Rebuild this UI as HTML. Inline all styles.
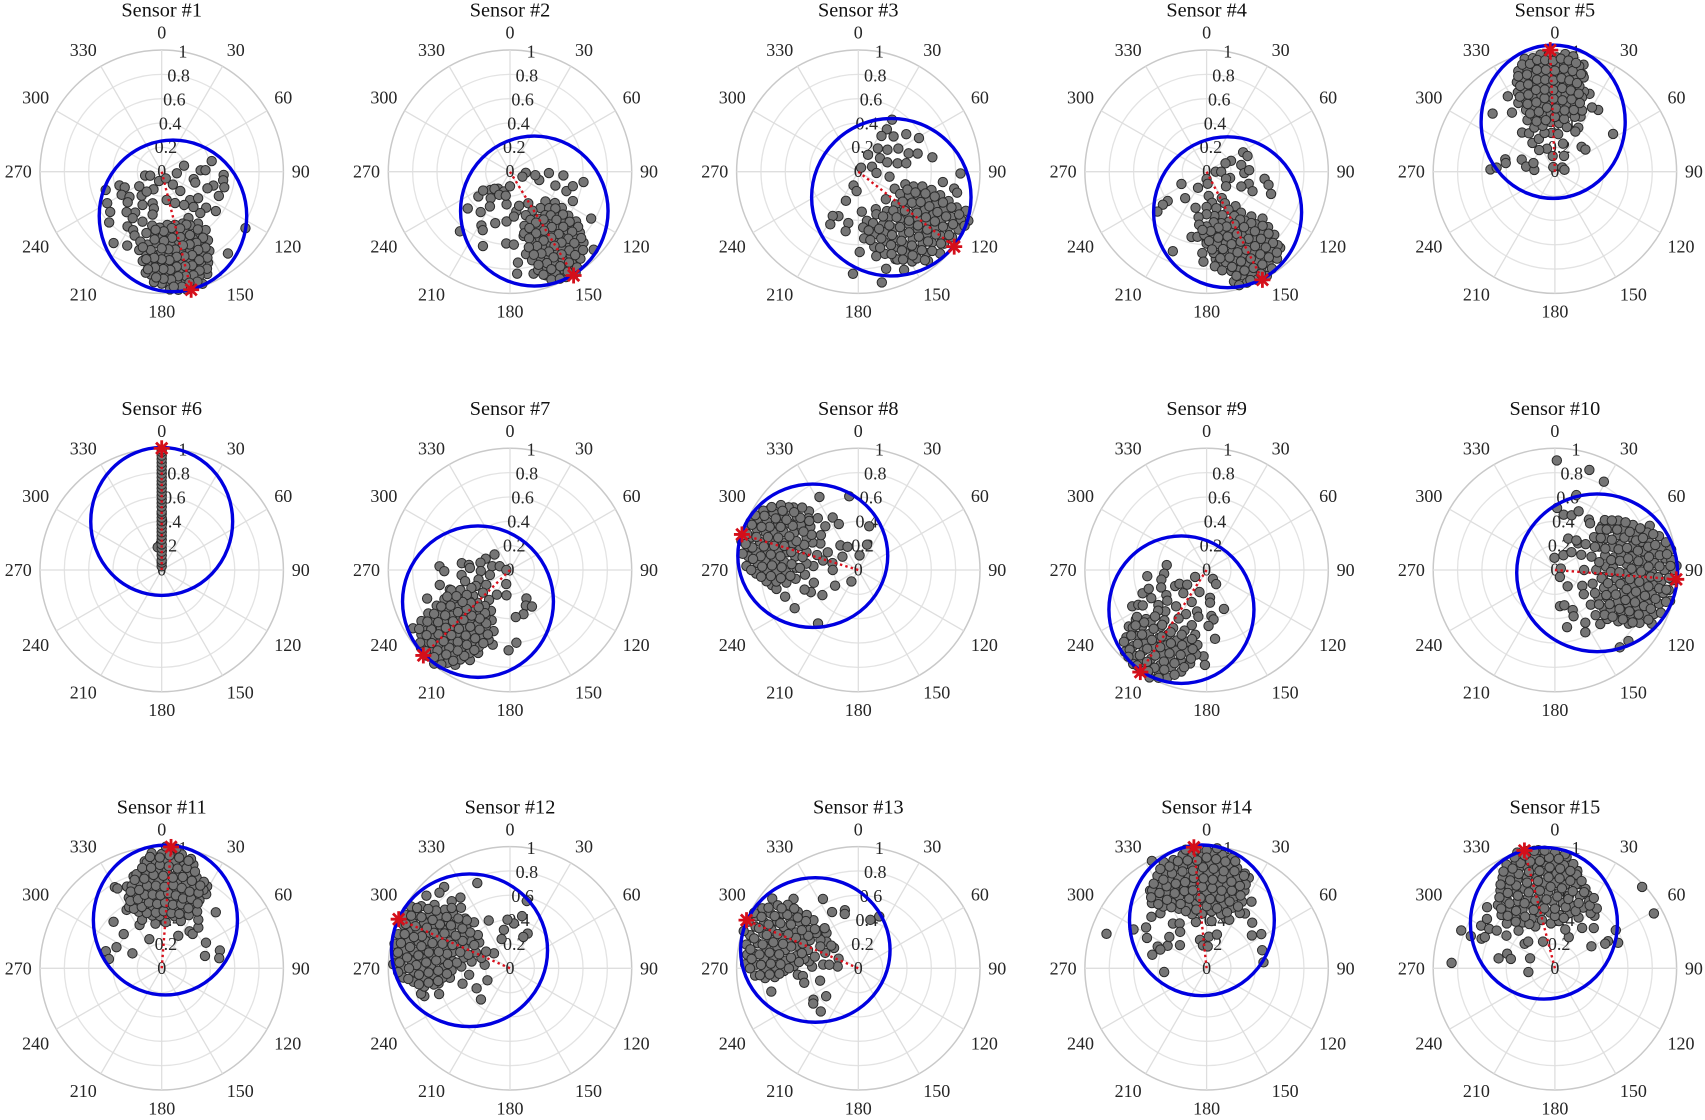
<!DOCTYPE html>
<html lang="en">
<head>
<meta charset="utf-8">
<title>Sensor polar plots</title>
<style>
html,body{margin:0;padding:0;background:#fff;}
#chart{display:block;width:1705px;height:1120px;background:#fff;}
text{font-family:"Liberation Serif",serif;}
</style>
</head>
<body>
<svg id="chart" xmlns="http://www.w3.org/2000/svg" width="1705" height="1120" viewBox="0 0 1705 1120"></svg>
<script>
const thetaTicks = [0,30,60,90,120,150,180,210,240,270,300,330];
const radialTicks = [0,0.2,0.4,0.6,0.8,1];
const sensorNames = ["Sensor #1","Sensor #2","Sensor #3","Sensor #4","Sensor #5","Sensor #6","Sensor #7","Sensor #8","Sensor #9","Sensor #10","Sensor #11","Sensor #12","Sensor #13","Sensor #14","Sensor #15"];
const peakTheta = [166,148.5,128,152.7,357.8,0,225.4,287,213,94.4,4.4,293.8,293.3,354,345.5];
const peakRadius = [1,1,1,1,1,1,1,1,1,1,1,1,1,1,1];
const fitCenterTheta = [165.7,148.3,127.7,152.6,358,0,225.3,287.4,212.4,93.8,4.4,294,293.1,354.4,346.3];
const fitCenterRadius = [.375,.38,.343,.375,.411,.399,.37,.392,.386,.348,.398,.364,.384,.396,.381];
const fitHalfWidth = [.606,.606,.655,.608,.592,.583,.62,.616,.596,.661,.592,.641,.614,.595,.604];
const fitHalfHeight = [.623,.616,.647,.62,.63,.608,.622,.589,.606,.648,.616,.627,.594,.619,.623];

const sensor1Points = [[78,.42],[75,.19],[96,.125],[88,.32],[88,.36],[93,.51],[98,.51],[104,.53],[105,.44],[110,.4],[113,.51],[103,.27],[108,.29],[124,.83],[141,.865],[126,.55],[129,.47],[137,.465],[257,.14],[251,.1],[196,.08],[149,.065],[139,.14],[136,.22],[237,.22],[252,.365],[247,.33],[252,.484],[240,.38],[232,.336],[220,.257],[205,.16],[217,.205],[228,.376],[240,.517],[232,.537],[210,.315],[196,.27],[192,.31],[213,.4],[221,.44],[212,.45],[192,.36],[201,.44],[226,.6],[212,.53],[206,.535],[203,.57],[214,.707],[205,.67],[170,.236],[157,.28],[135,.33],[126,.37],[146,.33],[138,.39],
[150,.44],[158,.46],[166,.45],[174,.44],[182,.46],[190,.45],[145,.52],[152,.5],[159,.53],[166,.52],[173,.51],[180,.53],[187,.51],[194,.52],[143,.6],[150,.59],[155,.61],[161,.6],[167,.58],[173,.61],[179,.6],[185,.59],[191,.61],[197,.6],[146,.68],[151,.67],[156,.69],[161,.68],[166,.66],[171,.69],[176,.68],[181,.67],[186,.69],[191,.68],[196,.67],[149,.76],[154,.75],[159,.77],[163,.76],[168,.74],[172,.77],[176,.76],[181,.75],[185,.77],[189,.76],[192,.75],[153,.84],[157,.83],[161,.85],[165,.84],[169,.82],[173,.85],[177,.84],[181,.83],[186,.85],[189,.84],[156,.92],[160,.91],[164,.93],[168,.92],[172,.9],[176,.93],[180,.92],[184,.91],[160,.98],[164,.97],[168,.99],[172,.98],[176,.97],
[155,.48],[162,.49],[170,.47],[178,.49],[186,.48],[148,.56],[156,.57],[164,.56],[171,.55],[178,.57],[186,.56],[148,.64],[154,.65],[159,.64],[164,.63],[170,.65],[175,.64],[180,.63],[188,.65],[194,.64],[150,.72],[155,.71],[160,.73],[165,.72],[170,.71],[175,.73],[180,.72],[185,.71],[190,.73],[152,.8],[157,.79],[162,.81],[166,.8],[171,.79],[175,.81],[179,.8],[184,.79],[188,.81],[155,.88],[159,.87],[163,.89],[167,.88],[171,.87],[175,.89],[179,.88],[183,.87],[162,.95],[166,.94],[170,.96],[174,.95]];

const sensor2Points = [[106,.25],[107,.39],[109,.49],[98,.61],[94,.13],[92,.32],[94,.44],[103,.53],[115,.57],[120,.77],[133,.94],[232,.33],[229,.46],[216,.41],[220,.64],[200,.65],[183,.59],[177,.6],[175,.75],[176,.84],[167,.86],[208,.5],[196,.44],[205,.53],[184,.41],[171,.33],[227,.22],[215,.17],[197,.17],[180,.12],[216,.27],[186,.27],[175,.37],[168,.54],[112,.11],[98,.21],
[150,.3],[165,.29],[130,.38],[140,.39],[150,.37],[160,.38],[125,.45],[133,.44],[141,.46],[149,.45],[157,.43],[165,.46],[125,.52],[132,.51],[139,.53],[146,.52],[153,.5],[160,.53],[167,.52],[127,.6],[133,.59],[139,.61],[145,.6],[151,.58],[157,.61],[163,.6],[127,.68],[132,.67],[137,.69],[142,.68],[147,.66],[152,.69],[157,.68],[163,.67],[169,.69],[131,.76],[136,.75],[141,.77],[146,.76],[151,.74],[156,.77],[161,.76],[166,.75],[134,.84],[139,.83],[144,.85],[149,.84],[154,.82],[159,.85],[164,.84],[141,.92],[146,.91],[151,.93],[156,.92],[161,.9],[147,.99],[152,.98],[159,.95],
[129,.48],[137,.49],[145,.48],[153,.47],[161,.49],[129,.56],[136,.55],[143,.57],[150,.56],[157,.55],[164,.57],[130,.64],[136,.63],[142,.65],[148,.64],[154,.63],[160,.65],[166,.64],[129,.72],[134,.71],[139,.73],[144,.72],[149,.71],[154,.73],[159,.72],[164,.71],[133,.8],[138,.79],[143,.81],[148,.8],[153,.79],[158,.81],[163,.8],[137,.88],[142,.87],[147,.89],[152,.88],[157,.87],[162,.89],[145,.96],[150,.95],[155,.97],[222,.19],[205,.21],[235,.27],[210,.33],[190,.2]];

const sensor3Points = [[33,.51],[34,.42],[33,.35],[45,.41],[52,.5],[61,.57],[40,.25],[53,.3],[60,.38],[70,.44],[73,.51],[79,.62],[30,.16],[35,.04],[70,.12],[58,.21],[72,.25],[78,.33],[80,.4],[94,.15],[99,.26],[91,.84],[97,.7],[100,.8],[102,.83],[199,.12],[185,.16],[203,.26],[204,.4],[210,.42],[208,.49],[191,.43],[192,.5],[179,.66],[168,.71],[183,.84],[168,.93],[164,.83],[155,.89],[157,.78],[149,.86],[142,.93],[170,.57],[114,.99],
[115,.33],[135,.32],[155,.34],[175,.33],[105,.4],[118,.39],[131,.41],[144,.4],[157,.38],[170,.41],[105,.47],[115,.46],[125,.48],[135,.47],[145,.45],[155,.48],[165,.47],[175,.46],[103,.54],[112,.53],[121,.55],[130,.54],[139,.52],[148,.55],[157,.54],[166,.53],[175,.55],[104,.62],[112,.61],[120,.63],[128,.62],[136,.6],[144,.63],[152,.62],[160,.61],[168,.63],[106,.7],[113,.69],[120,.71],[127,.7],[134,.68],[141,.71],[148,.7],[155,.69],[162,.71],[108,.78],[114,.77],[120,.79],[126,.78],[132,.76],[138,.79],[144,.78],[150,.77],[156,.79],[110,.86],[116,.85],[122,.87],[128,.86],[134,.84],[140,.87],[146,.86],[110,.94],[115,.93],[120,.95],[125,.94],[130,.92],[135,.95],[117,.98],
[110,.43],[124,.44],[138,.43],[151,.42],[164,.44],[110,.5],[120,.51],[130,.5],[140,.49],[150,.51],[160,.5],[170,.49],[108,.58],[116,.57],[125,.59],[134,.58],[143,.57],[152,.59],[161,.58],[170,.57],[108,.66],[116,.65],[124,.67],[132,.66],[140,.65],[148,.67],[156,.66],[164,.65],[110,.74],[117,.73],[123,.75],[130,.74],[137,.73],[144,.75],[151,.74],[158,.73],[111,.82],[117,.81],[123,.83],[129,.82],[135,.81],[141,.83],[147,.82],[153,.81],[113,.9],[119,.89],[125,.91],[131,.9],[137,.89],[143,.91]];

const sensor4Points = [[62,.34],[69,.36],[66,.22],[66,.17],[79,.29],[92,.31],[88,.35],[90,.075],[90,.12],[105,.2],[110,.17],[97,.48],[102,.52],[109,.56],[106,.36],[113,.31],[113,.41],[127,.2],[180,.06],[175,.1],[244,.23],[208,.15],[219,.28],[233,.4],[233,.45],[231,.52],[203,.71],[197,.31],[193,.55],[188,.54],[180,.57],[183,.67],[182,.74],[174,.72],[172,.75],[175,.78],[171,.82],[136,.87],[186,.45],
[175,.2],[150,.25],[170,.26],[150,.3],[165,.31],[180,.29],[140,.37],[150,.36],[160,.38],[170,.37],[180,.35],[190,.38],[140,.44],[148,.43],[156,.45],[164,.44],[172,.42],[180,.45],[188,.44],[135,.52],[142,.51],[150,.53],[158,.52],[166,.5],[174,.53],[182,.52],[130,.6],[137,.59],[144,.61],[151,.6],[158,.58],[165,.61],[172,.6],[180,.59],[132,.68],[138,.67],[144,.69],[150,.68],[156,.66],[162,.69],[168,.68],[175,.67],[133,.76],[138,.75],[144,.77],[150,.76],[156,.74],[162,.77],[168,.76],[136,.84],[141,.83],[146,.85],[151,.84],[156,.82],[161,.85],[166,.84],[141,.92],[146,.91],[151,.93],[156,.92],[161,.9],[166,.93],[150,.99],[155,.98],[160,.97],
[145,.48],[152,.49],[160,.48],[168,.47],[176,.49],[184,.48],[139,.56],[146,.55],[154,.57],[162,.56],[170,.55],[178,.57],[134,.64],[141,.63],[148,.65],[154,.64],[161,.63],[168,.65],[176,.64],[135,.72],[141,.71],[147,.73],[153,.72],[159,.71],[165,.73],[171,.72],[137,.8],[142,.79],[147,.81],[153,.8],[159,.79],[165,.81],[139,.88],[144,.87],[149,.89],[154,.88],[159,.87],[164,.89],[146,.96],[152,.95],[158,.96],[164,.97]];

const sensor5Points = [[313,.7],[328,.73],[324,.6],[337,.73],[57,.57],[35,.62],[30,.61],[24,.7],[20,.7],[15,.91],[16,.83],[47,.3],[54,.31],[272,.53],[274,.48],[284,.42],[280,.41],[290,.29],[280,.24],[275,.17],[292,.19],[340,.04],[60,.07],[79,.08],[352,.13],[30,.15],[341,.2],[324,.22],[322,.3],[334,.3],[320,.42],[326,.38],[16,.24],[25,.5],[28,.41],[27,.37],
[355,.32],[5,.31],[345,.33],[335,.4],[345,.39],[355,.41],[5,.4],[15,.38],[332,.48],[340,.47],[348,.49],[356,.48],[4,.46],[12,.49],[20,.48],[335,.56],[342,.55],[349,.57],[356,.56],[3,.54],[10,.57],[17,.56],[24,.55],[332,.64],[338,.63],[344,.65],[350,.64],[356,.62],[2,.65],[8,.64],[14,.63],[20,.65],[335,.72],[340,.71],[346,.73],[351,.72],[356,.7],[1,.73],[6,.72],[11,.71],[16,.73],[337,.8],[342,.79],[347,.81],[352,.8],[357,.78],[2,.81],[7,.8],[12,.79],[17,.81],[340,.88],[345,.87],[349,.89],[353,.88],[357,.86],[1,.89],[5,.88],[9,.87],[13,.89],[345,.96],[349,.95],[353,.97],[357,.96],[1,.94],[5,.97],[9,.96],
[340,.44],[350,.43],[0,.45],[10,.44],[337,.52],[345,.51],[353,.53],[1,.52],[9,.51],[17,.53],[338,.6],[345,.59],[352,.61],[359,.6],[6,.59],[13,.61],[20,.6],[335,.68],[341,.67],[347,.69],[353,.68],[359,.67],[5,.69],[11,.68],[17,.67],[338,.76],[343,.75],[349,.77],[354,.76],[359,.75],[4,.77],[9,.76],[14,.75],[339,.84],[344,.83],[350,.85],[355,.84],[0,.83],[5,.85],[10,.84],[15,.83],[343,.92],[347,.91],[351,.93],[355,.92],[359,.91],[3,.93],[7,.92],[11,.91]];

const sensor6Points = [[0,.03],[0,.06],[0,.08],[0,.12],[0,.15],[350,.19],[0,.18],[0,.21],[0,.25],[0,.28],[0,.31],[0,.34],[0,.37],[0,.4],[0,.43],[0,.46],[0,.48],[0,.52],[0,.55],[0,.58],[0,.61],[0,.64],[0,.67],[0,.7],[0,.73],[0,.76],[0,.79],[0,.82],[0,.85],[0,.88],[0,.91],[0,.94],[0,.97],[0,.99]];

const sensor7Points = [[315,.18],[295,.22],[284,.25],[278,.4],[277,.34],[273,.33],[273,.58],[269,.54],[258,.59],[251,.72],[252,.52],[282,.15],[290,.09],[270,.03],[268,.24],[256,.17],[264,.4],[256,.38],[253,.27],[238,.23],[195,.12],[188,.21],[208,.23],[150,.27],[156,.32],[149,.35],[163,.38],[173,.39],[175,.6],[181,.66],[193,.63],[201,.73],[204,.81],[210,.9],
[215,.3],[230,.29],[245,.31],[205,.37],[215,.36],[225,.38],[235,.37],[245,.35],[200,.44],[208,.43],[216,.45],[224,.44],[232,.42],[240,.45],[248,.44],[195,.52],[203,.51],[211,.53],[219,.52],[227,.5],[235,.53],[243,.52],[251,.51],[197,.6],[204,.59],[211,.61],[218,.6],[225,.58],[232,.61],[239,.6],[246,.59],[202,.68],[208,.67],[214,.69],[220,.68],[226,.66],[232,.69],[238,.68],[244,.67],[206,.76],[212,.75],[218,.77],[224,.76],[230,.74],[236,.77],[242,.76],[209,.84],[214,.83],[219,.85],[224,.84],[229,.82],[234,.85],[240,.84],[214,.92],[219,.91],[224,.93],[229,.92],[234,.9],[239,.93],[219,.99],[224,.98],[229,.97],
[210,.41],[220,.4],[230,.42],[240,.41],[204,.48],[212,.47],[220,.49],[228,.48],[236,.47],[244,.49],[199,.56],[207,.55],[215,.57],[223,.56],[231,.55],[239,.57],[247,.56],[200,.64],[207,.63],[214,.65],[221,.64],[228,.63],[235,.65],[242,.64],[204,.72],[210,.71],[216,.73],[222,.72],[228,.71],[234,.73],[240,.72],[208,.8],[213,.79],[218,.81],[223,.8],[228,.79],[233,.81],[238,.8],[212,.88],[217,.87],[222,.89],[227,.88],[232,.87],[237,.89],[216,.96],[221,.95],[226,.96],[231,.95]];

const sensor8Points = [[332,.68],[353,.61],[314,.74],[305,.88],[320,.63],[334,.48],[322,.54],[337,.41],[323,.45],[14,.37],[19,.22],[5,.12],[324,.25],[335,.21],[310,.17],[285,.22],[270,.21],[211,.11],[236,.23],[235,.36],[254,.38],[239,.61],[250,.64],[217,.55],[260,.72],[257,.69],[245,.43],[250,.47],
[285,.3],[300,.29],[275,.37],[290,.36],[305,.38],[265,.44],[277,.43],[289,.45],[301,.44],[313,.42],[262,.52],[272,.51],[282,.53],[292,.52],[302,.5],[312,.53],[260,.6],[268,.59],[276,.61],[284,.6],[292,.58],[300,.61],[308,.6],[316,.59],[262,.68],[269,.67],[276,.69],[283,.68],[290,.66],[297,.69],[304,.68],[311,.67],[318,.69],[263,.76],[270,.75],[276,.77],[282,.76],[288,.74],[294,.77],[300,.76],[306,.75],[312,.77],[268,.84],[274,.83],[280,.85],[286,.84],[292,.82],[298,.85],[304,.84],[310,.83],[272,.92],[277,.91],[282,.93],[287,.92],[292,.9],[297,.93],[302,.92],[284,.99],[289,.98],[294,.97],
[272,.48],[283,.47],[295,.49],[307,.48],[265,.56],[275,.55],[285,.57],[295,.56],[305,.55],[315,.57],[264,.64],[272,.63],[280,.65],[288,.64],[296,.63],[304,.65],[312,.64],[266,.72],[273,.71],[280,.73],[286,.72],[292,.71],[299,.73],[305,.72],[312,.71],[266,.8],[272,.79],[278,.81],[284,.8],[290,.79],[296,.81],[302,.8],[308,.79],[270,.88],[276,.87],[282,.89],[288,.88],[294,.87],[300,.89],[306,.88],[278,.96],[283,.95],[288,.96],[293,.95],[298,.96]];

const sensor9Points = [[277,.33],[265,.35],[258,.38],[249,.4],[264,.49],[239,.11],[145,.09],[146,.14],[243,.29],[243,.25],[233,.2],[225,.27],[198,.19],[250,.56],[252,.5],[243,.51],[244,.68],[243,.63],[241,.6],[234,.49],[238,.39],[232,.41],[173,.23],[174,.27],[156,.35],[174,.38],[172,.41],[178,.46],[173,.57],[182,.71],[181,.78],[235,.71],[231,.64],[234,.79],[205,.29],[193,.35],[190,.39],
[205,.4],[220,.39],[195,.47],[210,.46],[225,.48],[190,.54],[200,.53],[210,.55],[220,.54],[230,.52],[187,.62],[195,.61],[203,.63],[211,.62],[219,.6],[227,.63],[187,.7],[194,.69],[201,.71],[208,.7],[215,.68],[222,.71],[229,.7],[236,.69],[190,.78],[196,.77],[202,.79],[208,.78],[214,.76],[220,.79],[226,.78],[232,.77],[194,.86],[200,.85],[206,.87],[212,.86],[218,.84],[224,.87],[230,.86],[200,.94],[205,.93],[210,.95],[215,.94],[220,.92],[225,.95],[208,1],[213,.99],[218,.98],
[192,.58],[201,.57],[210,.59],[219,.58],[228,.57],[190,.66],[198,.65],[206,.67],[214,.66],[222,.65],[230,.67],[190,.74],[197,.73],[204,.75],[211,.74],[218,.73],[225,.75],[232,.74],[193,.82],[199,.81],[205,.83],[211,.82],[217,.81],[223,.83],[229,.82],[197,.9],[203,.89],[208,.91],[213,.9],[218,.89],[224,.91],[229,.9],[204,.97],[210,.96],[216,.97],[222,.96]];

const sensor10Points = [[1,.9],[19,.87],[29,.83],[16,.64],[2,.51],[9,.46],[17,.47],[22,.52],[34,.5],[37,.48],[47,.53],[53,.64],[59,.69],[65,.86],[66,.76],[23,.28],[41,.29],[36,.3],[30,.14],[43,.2],[358,.1],[76,.05],[144,.07],[142,.17],[172,.3],[165,.3],[168,.48],[156,.36],[158,.41],[150,.5],[154,.57],[140,.58],[128,.67],[140,.83],[134,.84],[119,.91],[88,1],
[60,.25],[90,.24],[120,.26],[50,.33],[70,.32],[90,.34],[110,.33],[130,.31],[50,.42],[62,.41],[74,.43],[86,.42],[98,.4],[110,.43],[122,.42],[134,.41],[48,.5],[58,.49],[68,.51],[78,.5],[88,.48],[98,.51],[108,.5],[118,.49],[128,.51],[138,.5],[45,.58],[53,.57],[61,.59],[69,.58],[77,.56],[85,.59],[93,.58],[101,.57],[109,.59],[117,.58],[125,.56],[133,.59],[52,.66],[59,.65],[66,.67],[73,.66],[80,.64],[87,.67],[94,.66],[101,.65],[108,.67],[115,.66],[122,.64],[129,.67],[60,.74],[66,.73],[72,.75],[78,.74],[84,.72],[90,.75],[96,.74],[102,.73],[108,.75],[114,.74],[120,.72],[126,.75],[68,.82],[74,.81],[80,.83],[86,.82],[92,.8],[98,.83],[104,.82],[110,.81],[116,.83],[122,.82],[72,.9],[78,.89],[84,.91],[90,.9],[96,.88],[102,.91],[108,.9],[114,.89],[80,.97],[85,.96],[90,.98],[95,.97],[100,.95],[105,.98],
[60,.38],[80,.37],[100,.39],[120,.38],[55,.46],[67,.45],[80,.47],[92,.46],[104,.45],[116,.47],[128,.46],[52,.54],[62,.53],[72,.55],[82,.54],[92,.53],[102,.55],[112,.54],[122,.53],[132,.55],[49,.62],[57,.61],[65,.63],[73,.62],[81,.61],[89,.63],[97,.62],[105,.61],[113,.63],[121,.62],[129,.61],[56,.7],[63,.69],[70,.71],[77,.7],[84,.69],[91,.71],[98,.7],[105,.69],[112,.71],[119,.7],[126,.69],[64,.78],[70,.77],[76,.79],[82,.78],[88,.77],[94,.79],[100,.78],[106,.77],[112,.79],[118,.78],[124,.77],[70,.86],[76,.85],[82,.87],[88,.86],[94,.85],[100,.87],[106,.86],[112,.85],[118,.87],[76,.94],[82,.93],[88,.95],[94,.94],[100,.93],[106,.95],[112,.94]];

const sensor11Points = [[287,.48],[280,.44],[295,.41],[297,.27],[314,.55],[312,.42],[337,.26],[330,.77],[331,.75],[337,.73],[343,.79],[351,.89],[44,.64],[27,.3],[37,.38],[42,.38],[42,.45],[60,.42],[74,.37],[73,.5],[80,.48],[37,.5],[29,.77],[31,.71],[329,.56],[333,.4],[338,.43],
[5,.38],[352,.37],[350,.44],[358,.43],[6,.45],[14,.44],[22,.42],[338,.5],[345,.49],[352,.51],[359,.5],[6,.48],[13,.51],[20,.5],[27,.49],[332,.57],[338,.56],[344,.58],[350,.57],[356,.55],[2,.58],[8,.57],[14,.56],[20,.58],[26,.57],[32,.55],[335,.64],[341,.63],[347,.65],[353,.64],[359,.62],[5,.65],[11,.64],[17,.63],[23,.65],[29,.64],[340,.72],[346,.71],[352,.73],[358,.72],[4,.7],[10,.73],[16,.72],[22,.71],[28,.73],[345,.8],[351,.79],[357,.81],[3,.8],[9,.78],[15,.81],[21,.8],[26,.79],[352,.88],[357,.87],[2,.89],[7,.88],[12,.86],[17,.89],[355,.95],[0,.94],[5,.96],[10,.95],[15,.93],[2,1],[7,.99],
[345,.47],[354,.46],[2,.47],[10,.46],[18,.47],[335,.54],[342,.53],[349,.55],[356,.53],[3,.54],[10,.53],[17,.55],[24,.54],[335,.61],[341,.6],[347,.62],[353,.61],[359,.6],[5,.62],[11,.61],[17,.6],[23,.62],[29,.61],[338,.68],[344,.67],[350,.69],[356,.68],[2,.67],[8,.69],[14,.68],[20,.67],[26,.69],[343,.76],[349,.75],[355,.77],[1,.76],[7,.75],[13,.77],[19,.76],[25,.75],[349,.84],[354,.83],[359,.85],[4,.84],[9,.83],[14,.85],[19,.84],[354,.92],[359,.91],[4,.93],[9,.92],[14,.91]];

const sensor12Points = [[339,.75],[321,.86],[317,.85],[311,.91],[325,.71],[319,.73],[14,.57],[13,.44],[5,.37],[357,.4],[351,.32],[27,.32],[23,.28],[344,.25],[336,.43],[313,.18],[278,.21],[242,.21],[261,.34],[252,.41],[239,.32],[223,.35],[250,.62],[252,.74],[254,.76],[258,.6],[261,.5],
[290,.25],[305,.24],[280,.32],[295,.31],[310,.33],[272,.4],[283,.39],[294,.41],[305,.4],[316,.38],[268,.48],[277,.47],[286,.49],[295,.48],[304,.46],[313,.49],[322,.48],[262,.56],[270,.55],[278,.57],[286,.56],[294,.54],[302,.57],[310,.56],[318,.55],[258,.64],[265,.63],[272,.65],[279,.64],[286,.62],[293,.65],[300,.64],[307,.63],[314,.65],[321,.64],[258,.72],[264,.71],[270,.73],[276,.72],[282,.7],[288,.73],[294,.72],[300,.71],[306,.73],[312,.72],[262,.8],[268,.79],[274,.81],[280,.8],[286,.78],[292,.81],[298,.8],[304,.79],[310,.81],[265,.88],[270,.87],[275,.89],[280,.88],[285,.86],[290,.89],[295,.88],[300,.87],[305,.89],[272,.96],[277,.95],[282,.97],[287,.96],[292,.94],[297,.97],[302,.96],
[288,.36],[303,.35],[276,.44],[288,.43],[300,.45],[312,.44],[265,.52],[274,.51],[283,.53],[292,.51],[301,.52],[310,.51],[318,.53],[260,.6],[268,.59],[276,.61],[283,.6],[290,.59],[298,.61],[306,.6],[314,.59],[260,.68],[267,.67],[274,.69],[281,.68],[288,.67],[295,.69],[302,.68],[309,.67],[316,.69],[260,.76],[266,.75],[272,.77],[278,.76],[284,.75],[290,.77],[296,.76],[302,.75],[308,.77],[264,.84],[270,.83],[276,.85],[282,.84],[288,.83],[294,.85],[300,.84],[306,.83],[268,.92],[273,.91],[278,.93],[283,.92],[288,.91],[293,.93],[298,.92],[303,.91]];

const sensor13Points = [[317,.78],[333,.64],[309,.91],[347,.49],[346,.46],[335,.51],[14,.41],[22,.46],[310,.26],[296,.18],[275,.17],[276,.29],[277,.24],[252,.33],[272,.38],[278,.41],[264,.5],[262,.46],[255,.46],[274,.89],[255,.74],[235,.45],[232,.47],[229,.35],[221,.47],[317,.43],[318,.39],[310,.34],[307,.39],
[295,.3],[310,.29],[285,.37],[300,.36],[280,.45],[290,.44],[300,.46],[310,.45],[320,.43],[272,.53],[281,.52],[290,.54],[299,.53],[308,.51],[317,.54],[268,.61],[276,.6],[284,.62],[292,.61],[300,.59],[308,.62],[316,.61],[264,.69],[271,.68],[278,.7],[285,.69],[292,.67],[299,.7],[306,.69],[313,.68],[264,.77],[270,.76],[276,.78],[282,.77],[288,.75],[294,.78],[300,.77],[306,.76],[312,.78],[266,.85],[272,.84],[278,.86],[284,.85],[290,.83],[296,.86],[302,.85],[308,.84],[272,.93],[277,.92],[282,.94],[287,.93],[292,.91],[297,.94],[302,.93],[288,.99],[293,.98],[298,.97],
[276,.49],[285,.48],[294,.5],[303,.49],[312,.48],[270,.57],[279,.56],[288,.58],[296,.57],[304,.56],[312,.58],[266,.65],[273,.64],[280,.66],[288,.65],[296,.64],[303,.66],[310,.65],[266,.73],[273,.72],[280,.74],[287,.73],[293,.72],[300,.74],[307,.73],[313,.72],[266,.81],[272,.8],[278,.82],[284,.81],[290,.8],[296,.82],[302,.81],[308,.8],[270,.89],[275,.88],[280,.9],[286,.89],[292,.88],[298,.9],[304,.89]];

const sensor14Points = [[289,.87],[265,.35],[84,.47],[72,.48],[54,.46],[58,.53],[45,.53],[34,.66],[25,.82],[333,.99],[298,.68],[304,.6],[297,.55],[313,.62],[320,.59],[284,.46],[294,.44],[300,.37],[310,.4],[311,.29],[292,.41],[323,.46],[329,.43],[324,.37],[324,.79],[347,.24],[4,.26],[17,.29],[351,.19],[3,.18],[347,.39],[6,.39],[21,.44],[35,.55],[22,.68],
[345,.46],[355,.45],[5,.47],[15,.46],[25,.44],[335,.54],[343,.53],[351,.55],[359,.54],[7,.52],[15,.55],[23,.54],[31,.53],[325,.62],[332,.61],[339,.63],[346,.62],[353,.6],[0,.63],[7,.62],[14,.61],[21,.63],[28,.62],[320,.7],[326,.69],[332,.71],[338,.7],[344,.68],[350,.71],[356,.7],[2,.69],[8,.71],[14,.7],[20,.68],[26,.71],[325,.78],[331,.77],[337,.79],[343,.78],[349,.76],[355,.79],[1,.78],[7,.77],[13,.79],[19,.78],[25,.76],[332,.86],[337,.85],[342,.87],[347,.86],[352,.84],[357,.87],[2,.86],[7,.85],[12,.87],[17,.86],[22,.84],[338,.94],[343,.93],[348,.95],[353,.94],[358,.92],[3,.95],[8,.94],[13,.93],[350,.99],[355,.98],[0,.97],[5,.99],
[340,.5],[350,.49],[0,.51],[10,.5],[20,.49],[330,.58],[338,.57],[346,.59],[355,.58],[3,.57],[11,.59],[19,.58],[27,.57],[323,.66],[330,.65],[337,.67],[344,.66],[350,.65],[357,.67],[4,.66],[11,.65],[18,.67],[25,.66],[322,.74],[328,.73],[334,.75],[340,.74],[346,.73],[352,.75],[358,.74],[4,.73],[10,.75],[16,.74],[22,.73],[328,.82],[334,.81],[340,.83],[346,.82],[352,.81],[358,.83],[4,.82],[10,.81],[16,.83],[22,.82],[335,.9],[340,.89],[345,.91],[350,.9],[355,.89],[0,.91],[5,.9],[10,.89],[15,.91]];

const sensor15Points = [[47,.98],[61,.93],[58,.59],[68,.56],[63,.49],[64,.46],[59,.35],[34,.4],[44,.46],[37,.54],[24,.66],[13,.82],[16,.72],[6,.92],[273,.85],[292,.83],[291,.74],[292,.65],[294,.63],[300,.7],[301,.63],[303,.57],[306,.69],[312,.75],[304,.48],[316,.43],[262,.22],[280,.47],[287,.41],[282,.37],[292,.22],[309,.32],[315,.31],[336,.24],[24,.28],[15,.33],
[335,.38],[355,.37],[5,.39],[325,.46],[335,.45],[345,.47],[355,.46],[5,.44],[15,.47],[25,.46],[313,.54],[322,.53],[331,.55],[340,.54],[349,.52],[358,.55],[7,.54],[16,.53],[25,.55],[33,.54],[315,.62],[323,.61],[331,.63],[339,.62],[347,.6],[355,.63],[3,.62],[11,.61],[19,.63],[27,.62],[35,.6],[318,.7],[325,.69],[332,.71],[339,.7],[346,.68],[353,.71],[0,.7],[7,.69],[14,.71],[21,.7],[325,.78],[331,.77],[337,.79],[343,.78],[349,.76],[355,.79],[1,.78],[7,.77],[13,.79],[330,.86],[335,.85],[340,.87],[345,.86],[350,.84],[355,.87],[0,.86],[5,.85],[10,.87],[335,.94],[340,.93],[345,.95],[350,.94],[355,.92],[0,.95],[5,.94],[342,1],[347,.99],[352,.98],
[330,.42],[345,.41],[0,.43],[10,.42],[320,.5],[330,.49],[340,.51],[350,.5],[0,.49],[10,.51],[20,.5],[318,.58],[326,.57],[335,.59],[344,.58],[353,.57],[2,.59],[11,.58],[20,.57],[29,.59],[318,.66],[325,.65],[333,.67],[341,.66],[349,.65],[357,.67],[5,.66],[13,.65],[21,.67],[29,.66],[322,.74],[328,.73],[335,.75],[342,.74],[349,.73],[356,.75],[3,.74],[10,.73],[17,.75],[327,.82],[333,.81],[339,.83],[345,.82],[351,.81],[357,.83],[3,.82],[9,.81],[332,.9],[337,.89],[342,.91],[347,.9],[352,.89],[357,.91],[2,.9],[340,.97],[345,.96],[350,.98],[355,.97]];

const sensorPoints = [sensor1Points,sensor2Points,sensor3Points,sensor4Points,sensor5Points,sensor6Points,sensor7Points,sensor8Points,sensor9Points,sensor10Points,sensor11Points,sensor12Points,sensor13Points,sensor14Points,sensor15Points];

const SVG_NS = "http://www.w3.org/2000/svg";
const svg = document.getElementById("chart");
const OUTER_RADIUS = 121.7;
const COLUMN_ORIGIN = 161.7, COLUMN_STEP = 348.3;
const ROW_ORIGIN = 171.7, ROW_STEP = 398.3;

function make(parent, tag, attrs) {
  const el = document.createElementNS(SVG_NS, tag);
  for (const key in attrs) el.setAttribute(key, attrs[key]);
  parent.appendChild(el);
  return el;
}
function radiusScale(r) { return r * OUTER_RADIUS; }
function polarX(cx, theta, r) { return cx + radiusScale(r) * Math.sin(theta * Math.PI / 180); }
function polarY(cy, theta, r) { return cy - radiusScale(r) * Math.cos(theta * Math.PI / 180); }

function drawPanel(index) {
  const cx = COLUMN_ORIGIN + COLUMN_STEP * (index % 5);
  const cy = ROW_ORIGIN + ROW_STEP * Math.floor(index / 5);
  const panel = make(svg, "g", {});
  
  

  const title = make(panel, "text", {x: cx, y: cy - 155, "text-anchor": "middle", "font-size": 20.3, fill: "#111"});
  
  
  title.textContent = sensorNames[index];

  radialTicks.forEach(function (tick) {
    if (tick === 0) return;
    const ring = make(panel, "circle", {cx: cx, cy: cy, r: radiusScale(tick), fill: "none",
      stroke: tick === 1 ? "#c9c9c9" : "#e3e3e3", "stroke-width": tick === 1 ? 1.5 : 1.3});
    
    
  });
  thetaTicks.forEach(function (tick) {
    const spoke = make(panel, "line", {x1: cx, y1: cy, x2: polarX(cx, tick, 1), y2: polarY(cy, tick, 1),
      stroke: "#dedede", "stroke-width": 1.3});
    
    
  });
  thetaTicks.forEach(function (tick) {
    const rad = tick * Math.PI / 180;
    const sin = Math.sin(rad), cos = Math.cos(rad);
    const anchor = Math.abs(sin) < 0.01 ? "middle" : (sin > 0 ? "start" : "end");
    const bias = Math.abs(cos) < 0.01 ? 0 : (cos > 0 ? 9 : 10);
    const yc = cy - (130 * cos + (cos > 0 ? bias : -bias));
    const label = make(panel, "text", {x: cx + 130 * sin, y: yc + 6, "text-anchor": anchor, "font-size": 18, fill: "#262626"});
    
    
    label.textContent = String(tick);
  });
  radialTicks.forEach(function (tick) {
    const label = make(panel, "text", {x: polarX(cx, 10, tick), y: polarY(cy, 10, tick) + 5.5, "text-anchor": "middle", "font-size": 18, fill: "#262626"});
    
    
    label.textContent = String(tick);
  });

  sensorPoints[index].forEach(function (point) {
    const dot = make(panel, "circle", {cx: polarX(cx, point[0], point[1]), cy: polarY(cy, point[0], point[1]), r: 4.7,
      fill: "#757575", stroke: "#2a2a2a", "stroke-width": 1});
    
    
  });

  const ex = polarX(cx, fitCenterTheta[index], fitCenterRadius[index]);
  const ey = polarY(cy, fitCenterTheta[index], fitCenterRadius[index]);
  const fit = make(panel, "ellipse", {cx: ex, cy: ey, rx: radiusScale(fitHalfWidth[index]), ry: radiusScale(fitHalfHeight[index]),
    fill: "none", stroke: "#0000e0", "stroke-width": 3.4});
  
  

  const sx = polarX(cx, peakTheta[index], peakRadius[index]);
  const sy = polarY(cy, peakTheta[index], peakRadius[index]);
  const peakLine = make(panel, "line", {x1: cx, y1: cy, x2: sx, y2: sy, stroke: "#d8101c", "stroke-width": 2.4, "stroke-dasharray": "2.4 3.2"});
  
  

  const star = make(panel, "g", {stroke: "#d40f1a", "stroke-width": 2.8});
  
  
  [0, 45, 90, 135].forEach(function (angle) {
    const a = angle * Math.PI / 180;
    make(star, "line", {x1: sx - 8 * Math.sin(a), y1: sy - 8 * Math.cos(a), x2: sx + 8 * Math.sin(a), y2: sy + 8 * Math.cos(a)});
  });
}
sensorNames.forEach(function (name, index) { drawPanel(index); });
</script>
</body>
</html>
